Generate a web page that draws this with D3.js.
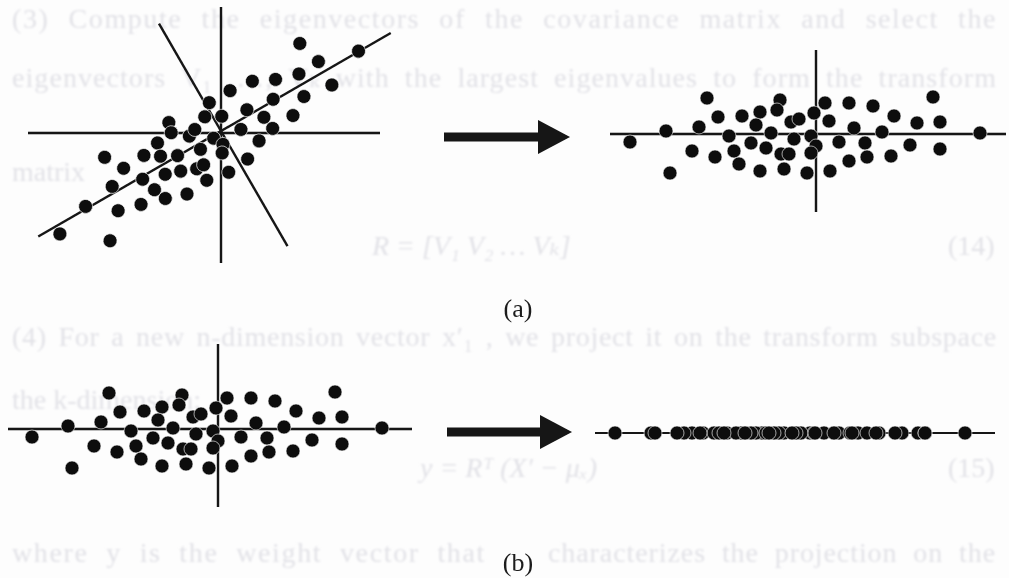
<!DOCTYPE html>
<html>
<head>
<meta charset="utf-8">
<script src="https://cdn.jsdelivr.net/npm/d3@7"></script>
<style>
  html, body { margin: 0; padding: 0; background: #fdfdfd; }
  svg { display: block; }
</style>
</head>
<body>
<svg id="fig" width="1009" height="578"></svg>
<script>
// Sample scores along the first (pc1) and second (pc2) principal directions.
const pc1 = [-109, -36, 9, 33, 57, 117, -98, -74, -56, -39, -2, 78, 101, 124, -25, 13, -17,
             -60, -150, -117, -45, 38, 66, 164, -87, -22, -5, -186, -65, 23, 49, 94, -124,
             -82, -50, 0, 124, -101, -35, -27, -5, 51, 75, 33, -77, -146, -56, -32, -9, 14];
const pc2 = [36, 34, 31, 31, 28, 37, 17, 18, 22, 24, 21, 18, 11, 12, 12, 13, 15,
             9, 3, 7, 1, 6, 2, 1, -2, -5, -2, -8, -9, -8, -9, -11, -17,
             -17, -14, -12, -15, -23, -20, -20, -19, -23, -22, -27, -30, -39, -37, -35, -39, -37];

const panelLabels = ["(a)", "(b)"];

// Faint running text of the page behind the figure.
const pageLines = [
  "(3) Compute the eigenvectors of the covariance matrix and select the",
  "eigenvectors V\u2081 ,\u2026, V\u2096 with the largest eigenvalues to form the transform",
  "matrix",
  "R = [V\u2081  V\u2082  \u2026  V\u2096]",
  "(4) For a new n-dimension vector x\u2032\u2081 , we project it on the transform subspace",
  "the k-dimension:",
  "y = R\u1D40 (X\u2032 \u2212 \u03BC\u2093)",
  "where y is the weight vector that",
  "characterizes the projection on the",
  "(14)",
  "(15)"
];

const svg = d3.select("#fig");
const W = 1009, H = 578;
const ink = "#141414";

svg.append("rect").attr("width", W).attr("height", H).attr("fill", "#fdfdfd");

const defs = svg.append("defs");
defs.append("filter").attr("id", "soft")
  .append("feGaussianBlur").attr("stdDeviation", 0.6);
defs.append("filter").attr("id", "faded")
  .append("feGaussianBlur").attr("stdDeviation", 0.9);

// page text layout: [index, x, baseline, justified width (null = natural), italic]
const pageLayout = [
  [0, 12, 28, 985, false],
  [1, 12, 87, 985, false],
  [2, 12, 181, null, false],
  [3, 372, 255, null, true],
  [4, 12, 346, 985, false],
  [5, 12, 409, null, false],
  [6, 420, 477, null, true],
  [7, 12, 562, 474, false],
  [8, 548, 562, 448, false],
  [9, 948, 255, null, false],
  [10, 948, 477, null, false]
];
const pageText = svg.append("g")
  .attr("filter", "url(#faded)")
  .attr("font-family", "'Liberation Serif', 'DejaVu Serif', serif")
  .attr("font-size", 28)
  .attr("fill", "#e2e2e7");
pageLayout.forEach(([i, x, y, w, it]) => {
  const s = pageLines[i];
  const t = pageText.append("text")
    .attr("x", x).attr("y", y)
    .attr("font-style", it ? "italic" : "normal")
    .text(s);
  if (w) {
    const natural = t.node().getComputedTextLength();
    const gaps = s.split(" ").length - 1;
    if (natural > w) {
      t.attr("textLength", w).attr("lengthAdjust", "spacingAndGlyphs");
    } else {
      // share the slack between letters and word gaps
      const extra = w - natural;
      const ls = (extra * 0.5) / s.length;
      t.attr("letter-spacing", ls);
      const after = t.node().getComputedTextLength();
      if (gaps > 0) t.attr("word-spacing", Math.max(0, (w - after) / gaps));
    }
  }
});

const fig = svg.append("g").attr("filter", "url(#soft)");

const sx = d3.scaleLinear().domain([-200, 200]).range([-200, 200]);
const sy = d3.scaleLinear().domain([-100, 100]).range([100, -100]);
const pts = pc1.map((v, i) => ({ a: v, b: pc2[i] }));

function segment(g, x1, y1, x2, y2, w) {
  g.append("line")
    .attr("x1", x1).attr("y1", y1).attr("x2", x2).attr("y2", y2)
    .attr("stroke", ink).attr("stroke-width", w || 2.4);
}

function dots(g, projected) {
  g.selectAll("circle").data(pts).join("circle")
    .attr("cx", d => sx(d.a))
    .attr("cy", d => projected ? 0 : sy(d.b))
    .attr("r", 7)
    .attr("fill", "#111")
    .attr("stroke", "#fff")
    .attr("stroke-opacity", 0.75)
    .attr("stroke-width", 0.8);
}

function arrow(g, x0, xHead, xTip, yc) {
  const p = d3.path();
  p.moveTo(x0, yc - 4.5);
  p.lineTo(xHead, yc - 4.5);
  p.lineTo(xHead, yc - 17);
  p.lineTo(xTip, yc);
  p.lineTo(xHead, yc + 17);
  p.lineTo(xHead, yc + 4.5);
  p.lineTo(x0, yc + 4.5);
  p.closePath();
  g.append("path").attr("d", p.toString()).attr("fill", ink);
}

// (a) left: original axes plus the rotated principal axes
segment(fig, 28, 133, 380, 133);
segment(fig, 221, 7, 221, 263);
const rotAxes = fig.append("g").attr("transform", "translate(221,131) rotate(-30)");
segment(rotAxes, sx(-211), 0, sx(196), 0);
segment(rotAxes, 0, sy(-133), 0, sy(124));
dots(fig.append("g").attr("transform", "translate(217,134) rotate(-30)"), false);

// (a) right: data expressed in the principal-axis frame
const aRight = fig.append("g").attr("transform", "translate(816,134)");
segment(aRight, sx(-206), 0, sx(190), 0);
segment(aRight, 0, -84, 0, 78);
dots(aRight, false);

// (b) left: same frame
const bLeft = fig.append("g").attr("transform", "translate(218,429)");
segment(bLeft, sx(-210), 0, sx(194), 0);
segment(bLeft, 0, -85, 0, 78);
dots(bLeft, false);

// (b) right: projection onto the first component only
const bRight = fig.append("g").attr("transform", "translate(801,433)");
segment(bRight, sx(-206), 0, sx(194), 0, 2.2);
dots(bRight, true);

arrow(fig, 444, 538, 570, 137);
arrow(fig, 447, 540, 572, 432);

fig.selectAll("text.lbl").data(panelLabels).join("text")
  .attr("class", "lbl")
  .attr("x", 518)
  .attr("y", (d, i) => i === 0 ? 317 : 571)
  .attr("text-anchor", "middle")
  .attr("font-family", "'Liberation Serif', 'DejaVu Serif', serif")
  .attr("font-size", 26)
  .attr("fill", "#1a1a1a")
  .text(d => d);
</script>
</body>
</html>
